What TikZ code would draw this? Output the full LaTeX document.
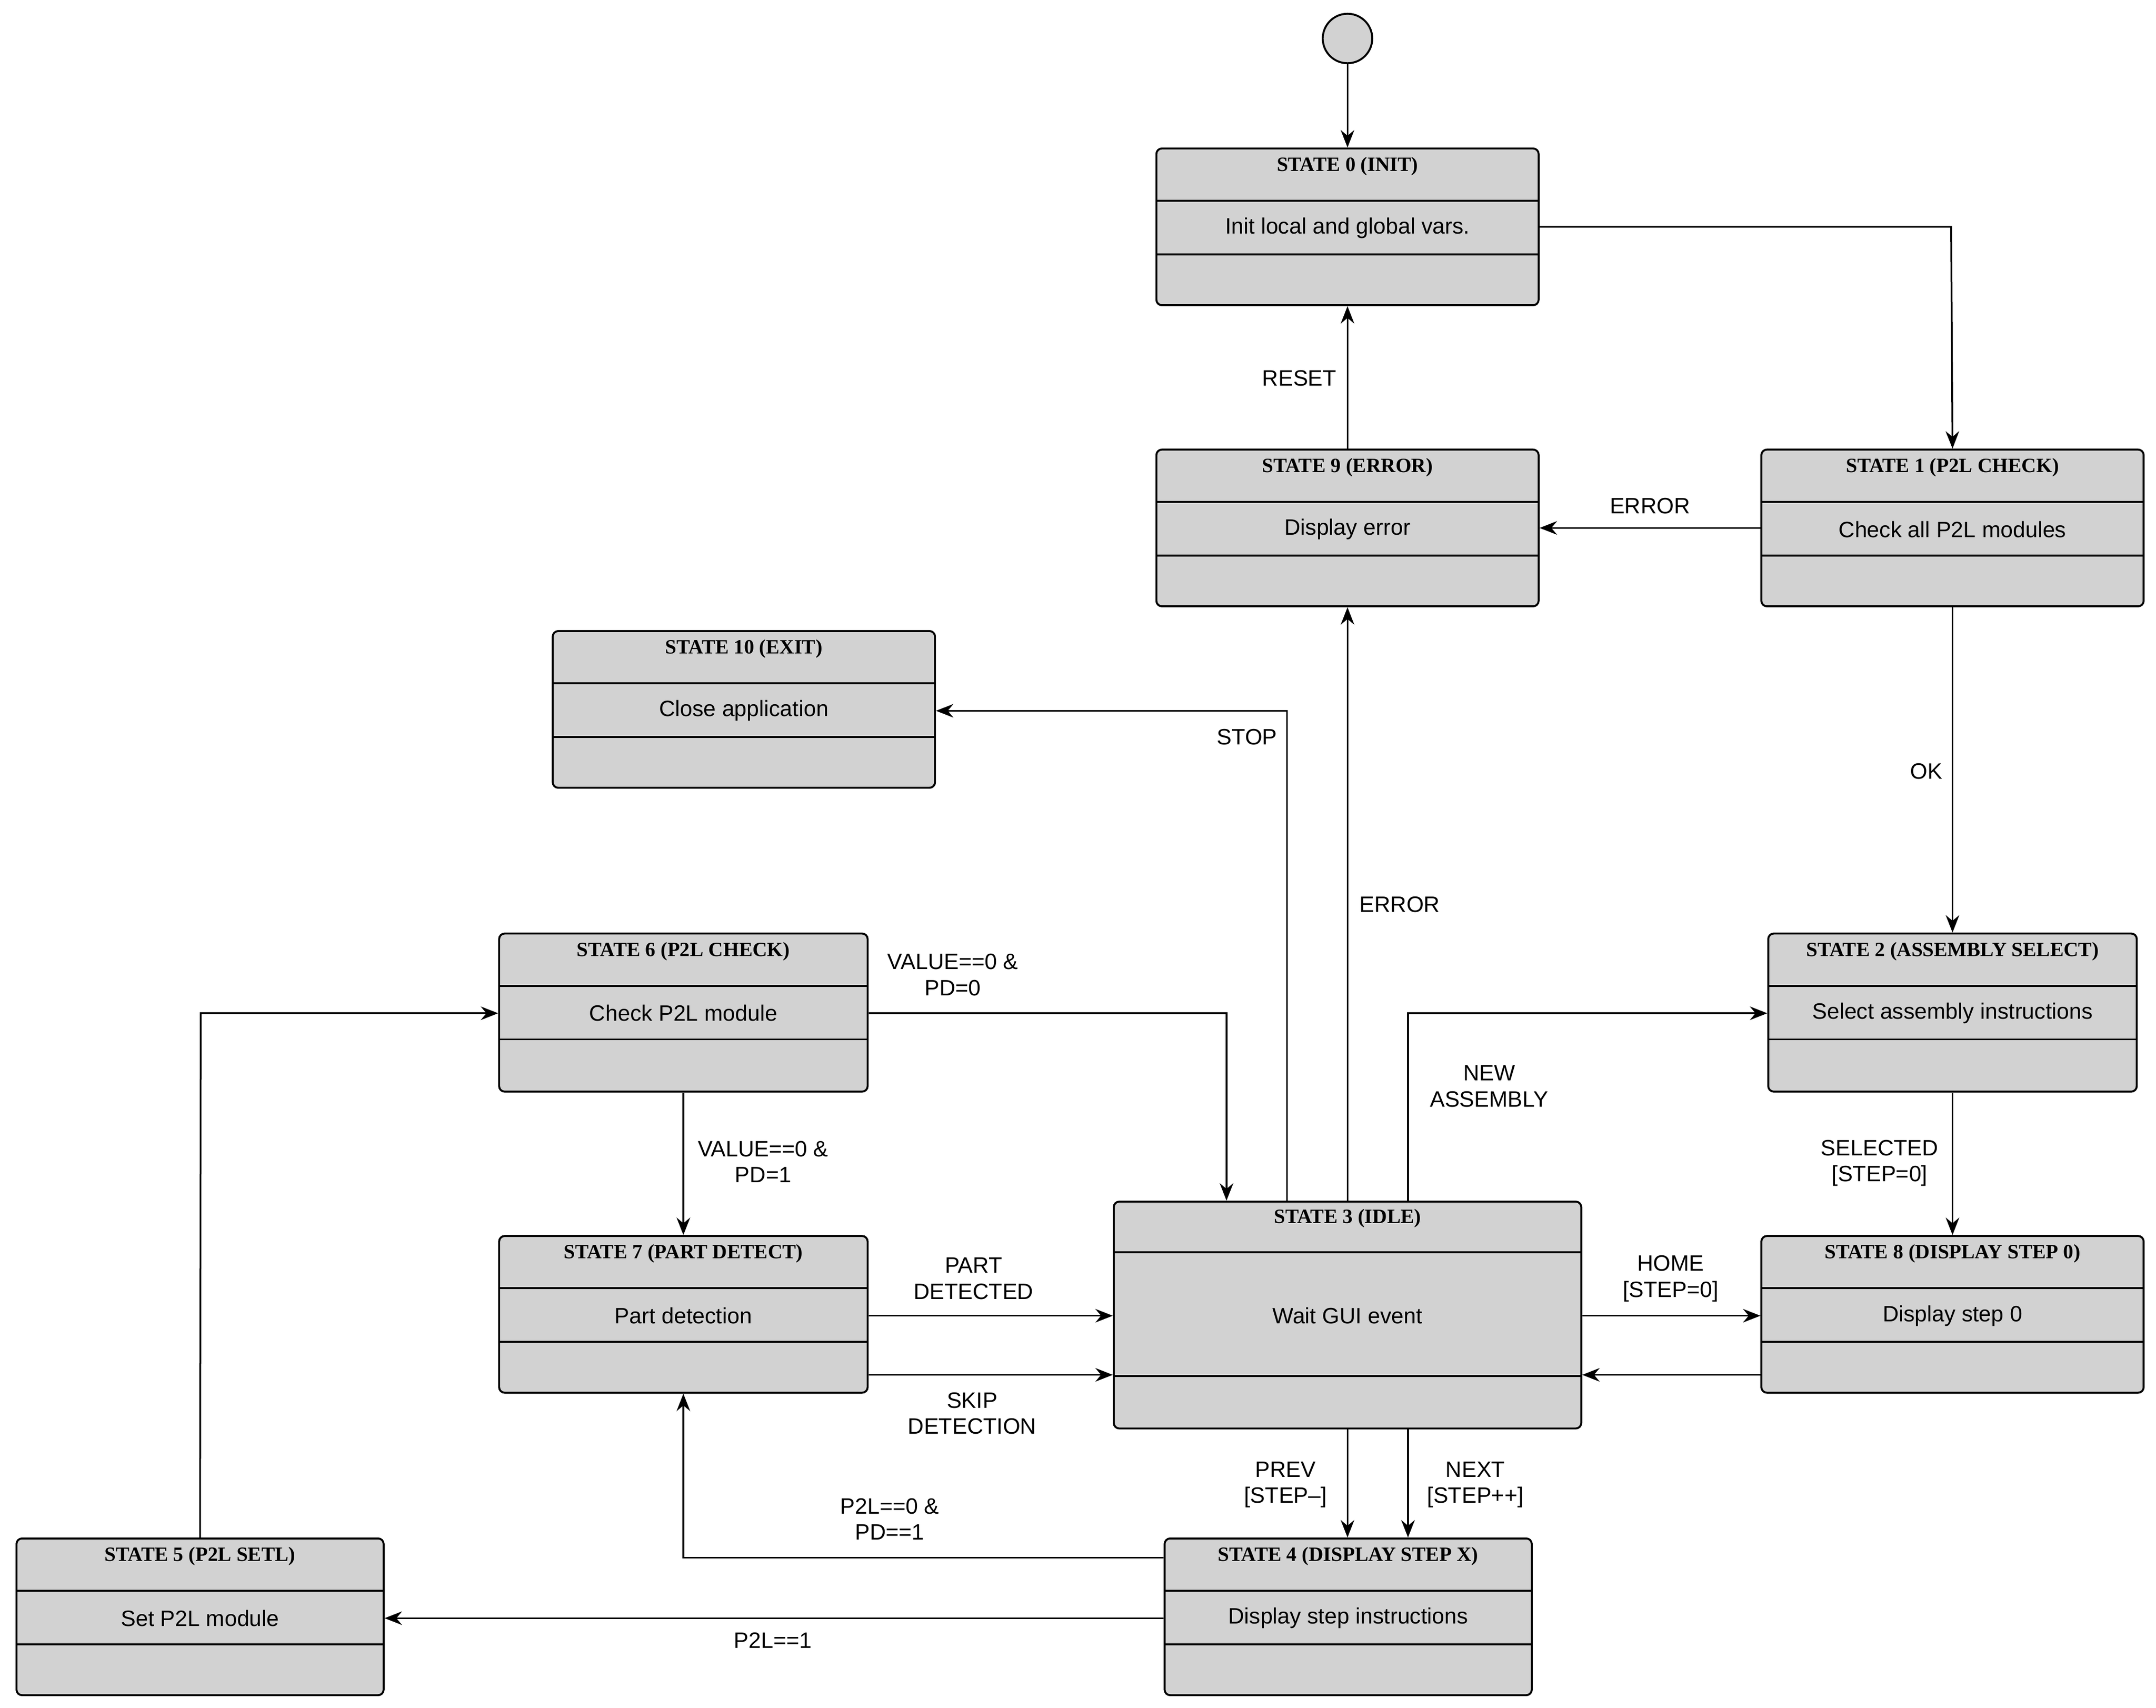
\documentclass[tikz,border=0pt]{standalone}
\usepackage{fontspec}
\setmainfont{Liberation Serif}
\setsansfont{Liberation Sans}
\usetikzlibrary{arrows.meta}
\begin{document}
\begin{tikzpicture}[x={(0.025cm,0)},y={(0,-0.025cm)},
 box/.style={draw,line width=1pt,fill=gray!35,rounded corners=0.1cm,inner sep=0pt},
 ttl/.style={font=\fontsize{10.5}{12}\selectfont\bfseries\rmfamily},
 bdy/.style={font=\fontsize{11.5}{13}\selectfont\sffamily},
 lbl/.style={font=\fontsize{11.5}{13.5}\selectfont\sffamily,align=center},
 arr/.style={line width=0.9pt,-{Stealth[length=9pt,width=7pt]}}]
\useasboundingbox (0,0) rectangle (1568,1242);
\newcommand\stbox[7]{%
 \node[box, minimum width={(#4-#2)*0.025cm}, minimum height={(#5-#3)*0.025cm}] (#1) at ({(#2+#4)/2},{(#3+#5)/2}) {};
 \draw[line width=1pt] (#2,#3+38) -- (#4,#3+38) (#2,#3+77) -- (#4,#3+77);
 \node[ttl] at ({(#2+#4)/2},#3+13) {#6};
 \node[bdy] at ({(#2+#4)/2},#3+58) {#7};}
\node[draw,line width=1pt,fill=gray!35,circle,minimum size={36*0.025cm},inner sep=0pt] (init) at (980,28) {};
\stbox{s0}{841}{108}{1119}{222}{STATE 0 (INIT)}{Init local and global vars.}
\stbox{s9}{841}{327}{1119}{441}{STATE 9 (ERROR)}{Display error}
\stbox{s1}{1281}{327}{1559}{441}{STATE 1 (P2L CHECK)}{Check all P2L modules}
\stbox{s10}{402}{459}{680}{573}{STATE 10 (EXIT)}{Close application}
\stbox{s6}{363}{679}{631}{794}{STATE 6 (P2L CHECK)}{Check P2L module}
\stbox{s2}{1286}{679}{1554}{794}{STATE 2 (ASSEMBLY SELECT)}{Select assembly instructions}
\stbox{s7}{363}{899}{631}{1013}{STATE 7 (PART DETECT)}{Part detection}
\stbox{s8}{1281}{899}{1559}{1013}{STATE 8 (DISPLAY STEP 0)}{Display step 0}
\stbox{s5}{12}{1119}{279}{1233}{STATE 5 (P2L SETL)}{Set P2L module}
\stbox{s4}{847}{1119}{1114}{1233}{STATE 4 (DISPLAY STEP X)}{Display step instructions}
\node[box, minimum width={340*0.025cm}, minimum height={165*0.025cm}] (s3) at (980,956.5) {};
\draw[line width=1pt] (810,911) -- (1150,911) (810,1001) -- (1150,1001);
\node[ttl] at (980,886) {STATE 3 (IDLE)};
\node[bdy] at (980,957) {Wait GUI event};
% connectors
\draw[arr] (init) -- (s0);
\draw[arr] (s0.east |- 0,165) -- (1419,165) -- (s1.north);
\draw[arr] (s9) -- (s0);
\node[lbl] at (945,275) {RESET};
\draw[arr] (s1.west |- 0,384) -- (s9.east |- 0,384);
\node[lbl] at (1200,368) {ERROR};
\draw[arr] (s1.south) -- (s2.north);
\node[lbl] at (1401,561) {OK};
\draw[arr] (s3.north) -- (s9.south);
\node[lbl] at (1018,658) {ERROR};
\draw[arr] (936,0 |- s3.north) -- (936,517) -- (s10.east |- 0,517);
\node[lbl] at (907,536) {STOP};
\draw[arr] (1024,0 |- s3.north) -- (1024,737) -- (s2.west |- 0,737);
\node[lbl] at (1083,790) {NEW\\ASSEMBLY};
\draw[arr] (s6.east |- 0,737) -- (892,737) -- (892,0 |- s3.north);
\node[lbl] at (693,709) {VALUE==0 \&\\PD=0};
\draw[arr] (s6.south) -- (s7.north);
\node[lbl] at (555,845) {VALUE==0 \&\\PD=1};
\draw[arr] (s7.east |- 0,957) -- (s3.west |- 0,957);
\node[lbl] at (708,930) {PART\\DETECTED};
\draw[arr] (s7.east |- 0,1000) -- (s3.west |- 0,1000);
\node[lbl] at (707,1028) {SKIP\\DETECTION};
\draw[arr] (s3.east |- 0,957) -- (s8.west |- 0,957);
\node[lbl] at (1215,930) {HOME\\{}[STEP=0]};
\draw[arr] (s8.west |- 0,1000) -- (s3.east |- 0,1000);
\draw[arr] (s2.south) -- (s8.north);
\node[lbl] at (1367,846) {SELECTED\\{}[STEP=0]};
\draw[arr] (980,0 |- s3.south) -- (980,0 |- s4.north);
\node[lbl] at (935,1080) {PREV\\{}[STEP--]};
\draw[arr] (1024,0 |- s3.south) -- (1024,0 |- s4.north);
\node[lbl] at (1073,1080) {NEXT\\{}[STEP++]};
\draw[arr] (s4.west |- 0,1133) -- (497,1133) -- (s7.south);
\node[lbl] at (647,1105) {P2L==0 \&\\PD==1};
\draw[arr] (s4.west |- 0,1177) -- (s5.east |- 0,1177);
\node[lbl] at (562,1193) {P2L==1};
\draw[arr] (s5.north) -- (146,737) -- (s6.west |- 0,737);
\end{tikzpicture}
\end{document}
